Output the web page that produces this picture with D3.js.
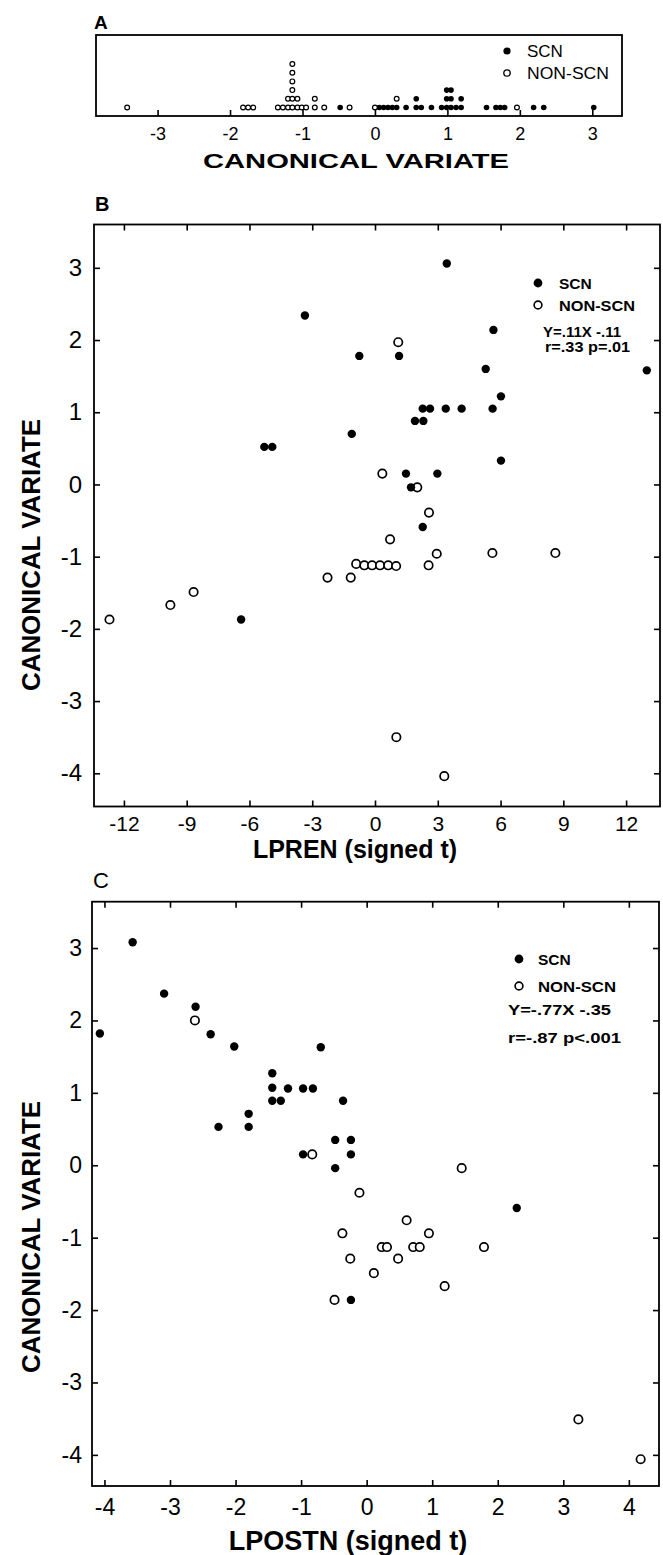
<!DOCTYPE html>
<html>
<head>
<meta charset="utf-8">
<script src="https://cdn.jsdelivr.net/npm/d3@7"></script>
<style>
  body { margin: 0; background: #fff; }
  svg text { font-family: "Liberation Sans", Arial, sans-serif; fill: #000; }
  .tick text { font-family: "Liberation Sans", Arial, sans-serif; }
</style>
</head>
<body>
<svg id="chart" width="663" height="1555"></svg>
<script>
// ---- panel A: canonical variate scores (equal values stack up) ----
var aScn = [-0.48, 0.06, 0.12, 0.18, 0.24, 0.30, 0.43, 0.57, 0.57, 0.64, 0.78,
            0.92, 0.99, 0.99, 0.99, 1.05, 1.05, 1.05, 1.12, 1.19, 1.19,
            1.54, 1.67, 1.73, 1.79, 2.19, 2.33, 3.02];
var aNon = [-3.42, -1.82, -1.75, -1.68, -1.34, -1.27, -1.20, -1.20,
            -1.14, -1.14, -1.14, -1.14, -1.14, -1.14, -1.07, -1.07, -1.01, -0.95,
            -0.83, -0.83, -0.70, -0.35, 0.00, 0.30, 1.96];
var aTicks = [-3, -2, -1, 0, 1, 2, 3];

// ---- panel B: LPREN (signed t) vs canonical variate ----
var bScnX = [-3.35, -0.75, -1.11, -5.29, -4.91, 3.43, 5.66, 1.15, 5.29, 12.99, 6.02,
             2.28, 2.63, 3.38, 4.14, 5.62, 1.91, 2.31, 6.02, 1.48, 2.98, 1.72, 2.28, -6.40];
var bScnY = [2.34, 1.78, 0.70, 0.52, 0.52, 3.06, 2.14, 1.78, 1.60, 1.58, 1.22,
             1.05, 1.05, 1.05, 1.05, 1.05, 0.88, 0.88, 0.33, 0.15, 0.15, -0.04, -0.59, -1.87];
var bNonX = [1.11, 0.35, 2.02, 2.58, 0.72, 2.95, 5.61, 8.62,
             -0.90, -0.51, -0.14, 0.24, 0.63, 1.01, 2.56, -2.27, -1.16,
             -8.67, -9.78, -12.69, 1.02, 3.31];
var bNonY = [1.97, 0.15, -0.04, -0.39, -0.76, -0.96, -0.95, -0.95,
             -1.10, -1.12, -1.12, -1.12, -1.12, -1.13, -1.12, -1.29, -1.29,
             -1.49, -1.67, -1.87, -3.50, -4.04];
var bXTicks = [-12, -9, -6, -3, 0, 3, 6, 9, 12];
var bYTicks = [3, 2, 1, 0, -1, -2, -3, -4];

// ---- panel C: LPOSTN (signed t) vs canonical variate ----
var cScnX = [-4.07, -3.57, -3.09, -2.61, -2.38, -2.02, -0.70, -1.44, -1.44, -1.20,
             -1.44, -1.31, -0.97, -0.82, -1.80, -2.26, -1.80, -0.36, -0.97,
             -0.48, -0.24, -0.24, -0.48, 2.29, -0.24];
var cScnY = [1.82, 3.08, 2.37, 2.19, 1.81, 1.64, 1.63, 1.27, 1.07, 1.06,
             0.89, 0.89, 1.06, 1.06, 0.71, 0.53, 0.53, 0.89, 0.15,
             0.35, 0.35, 0.15, -0.04, -0.59, -1.86];
var cNonX = [-2.62, -0.83, 1.45, -0.11, 0.61, -0.37, 0.95, 0.23, 0.31, 0.71, 0.81,
             1.79, -0.25, 0.48, 0.11, 1.19, -0.49, 3.23, 4.18];
var cNonY = [2.00, 0.15, -0.04, -0.38, -0.76, -0.94, -0.94, -1.13, -1.13, -1.13, -1.13,
             -1.13, -1.29, -1.29, -1.49, -1.67, -1.86, -3.51, -4.06];
var cXTicks = [-4, -3, -2, -1, 0, 1, 2, 3, 4];
var cYTicks = [3, 2, 1, 0, -1, -2, -3, -4];

var svg = d3.select('#chart');
svg.append('rect').attr('width', 663).attr('height', 1555).attr('fill', '#fff');

function pairs(xs, ys) {
    return xs.map(function (d, i) { return [d, ys[i]]; });
}

function frameRect(g, x0, y0, x1, y1) {
    g.append('rect')
        .attr('x', x0).attr('y', y0)
        .attr('width', x1 - x0).attr('height', y1 - y0)
        .attr('fill', 'none').attr('stroke', '#000').attr('stroke-width', 1.8);
}

function styleAxis(sel, size) {
    sel.select('.domain').remove();
    sel.selectAll('.tick line').attr('stroke', '#000').attr('stroke-width', 1.6);
    sel.selectAll('.tick text').attr('font-size', size).attr('fill', '#000');
}

function fmt(d) { return String(d); }

// ================= panel A =================
(function () {
    var x = d3.scaleLinear().domain([-3.85, 3.41]).range([96, 622]),
        top = 35, bottom = 116, step = 8.7, base = 107.5;
    var g = svg.append('g');
    frameRect(g, 96, top, 622, bottom);

    g.append('g').attr('transform', 'translate(0,' + bottom + ')')
        .call(d3.axisBottom(x).tickValues(aTicks).tickSizeInner(-6).tickSizeOuter(0)
            .tickPadding(11).tickFormat(fmt))
        .call(function (s) { styleAxis(s, 18); });

    var pts = aScn.map(function (v) { return { v: v, scn: true }; })
        .concat(aNon.map(function (v) { return { v: v, scn: false }; }));
    var level = {};
    pts.forEach(function (p) {
        var k = p.v.toFixed(2);
        p.lev = level[k] || 0;
        level[k] = p.lev + 1;
    });

    g.selectAll('circle.pt').data(pts).enter().append('circle')
        .attr('class', 'pt')
        .attr('cx', function (d) { return x(d.v); })
        .attr('cy', function (d) { return base - d.lev * step; })
        .attr('r', function (d) { return d.scn ? 2.8 : 2.4; })
        .attr('fill', function (d) { return d.scn ? '#000' : '#fff'; })
        .attr('stroke', '#000').attr('stroke-width', function (d) { return d.scn ? 0 : 1.2; });

    g.append('text').attr('x', 94).attr('y', 29).attr('font-size', 19).attr('font-weight', 'bold').text('A');

    // legend
    g.append('circle').attr('cx', 507).attr('cy', 51).attr('r', 3.6).attr('fill', '#000');
    g.append('circle').attr('cx', 507).attr('cy', 73).attr('r', 3.2).attr('fill', '#fff')
        .attr('stroke', '#000').attr('stroke-width', 1.3);
    g.append('text').attr('x', 527).attr('y', 57).attr('font-size', 17).text('SCN');
    g.append('text').attr('x', 527).attr('y', 79).attr('font-size', 17)
        .attr('textLength', 82).attr('lengthAdjust', 'spacingAndGlyphs').text('NON-SCN');

    g.append('text').attr('x', 356).attr('y', 168).attr('font-size', 20).attr('font-weight', 'bold')
        .attr('text-anchor', 'middle').attr('textLength', 306).attr('lengthAdjust', 'spacingAndGlyphs')
        .text('CANONICAL VARIATE');
})();

// ================= panels B and C =================
function scatterPanel(o) {
    var x = d3.scaleLinear().domain(o.xDom).range([o.left, o.right]),
        y = d3.scaleLinear().domain(o.yDom).range([o.bottom, o.top]);
    var g = svg.append('g');
    frameRect(g, o.left, o.top, o.right, o.bottom);

    g.append('g').attr('transform', 'translate(0,' + o.bottom + ')')
        .call(d3.axisBottom(x).tickValues(o.xTicks).tickSizeInner(-6).tickSizeOuter(0)
            .tickPadding(o.xPad).tickFormat(fmt))
        .call(function (s) { styleAxis(s, o.xFont); });
    g.append('g').attr('transform', 'translate(0,' + o.top + ')')
        .call(d3.axisTop(x).tickValues(o.xTicks).tickSizeInner(-6).tickSizeOuter(0).tickFormat(''))
        .call(function (s) { styleAxis(s, 0); });
    g.append('g').attr('transform', 'translate(' + o.left + ',0)')
        .call(d3.axisLeft(y).tickValues(o.yTicks).tickSizeInner(-6).tickSizeOuter(0)
            .tickPadding(o.yPad).tickFormat(fmt))
        .call(function (s) { styleAxis(s, o.yFont); });
    g.append('g').attr('transform', 'translate(' + o.right + ',0)')
        .call(d3.axisRight(y).tickValues(o.yTicks).tickSizeInner(-6).tickSizeOuter(0).tickFormat(''))
        .call(function (s) { styleAxis(s, 0); });

    g.selectAll('circle.non').data(o.non).enter().append('circle')
        .attr('class', 'non')
        .attr('cx', function (d) { return x(d[0]); })
        .attr('cy', function (d) { return y(d[1]); })
        .attr('r', 4.2).attr('fill', '#fff').attr('stroke', '#000').attr('stroke-width', 1.7);
    g.selectAll('circle.scn').data(o.scn).enter().append('circle')
        .attr('class', 'scn')
        .attr('cx', function (d) { return x(d[0]); })
        .attr('cy', function (d) { return y(d[1]); })
        .attr('r', 4.2).attr('fill', '#000');

    g.append('text').attr('x', o.left + 1).attr('y', o.top - 14)
        .attr('font-size', o.letterSize).attr('font-weight', o.letterWeight).text(o.letter);

    // y title
    g.append('text')
        .attr('transform', 'translate(31,' + o.yTitleY + ') rotate(-90)')
        .attr('text-anchor', 'middle').attr('dy', '0.35em')
        .attr('font-size', 26).attr('font-weight', 'bold')
        .attr('textLength', 272).attr('lengthAdjust', 'spacingAndGlyphs')
        .text('CANONICAL VARIATE');
    // x title
    g.append('text').attr('x', o.xTitleX).attr('y', o.xTitleY)
        .attr('text-anchor', 'middle').attr('font-size', o.xTitleSize).attr('font-weight', 'bold')
        .text(o.xTitle);

    // legend
    var L = o.legend;
    g.append('circle').attr('cx', L.x).attr('cy', L.y).attr('r', 4.4).attr('fill', '#000');
    g.append('circle').attr('cx', L.x).attr('cy', L.y + L.dy).attr('r', 3.9).attr('fill', '#fff')
        .attr('stroke', '#000').attr('stroke-width', 1.6);
    g.append('text').attr('x', L.tx).attr('y', L.y + 5.5).attr('font-size', 15.5).attr('font-weight', 'bold').text('SCN');
    g.append('text').attr('x', L.tx).attr('y', L.y + L.dy + 5.5).attr('font-size', 15.5).attr('font-weight', 'bold')
        .attr('textLength', L.nonW).attr('lengthAdjust', 'spacingAndGlyphs').text('NON-SCN');
    L.lines.forEach(function (ln) {
        g.append('text').attr('x', ln.x).attr('y', ln.y).attr('font-size', 14.5).attr('font-weight', 'bold')
            .attr('textLength', ln.w).attr('lengthAdjust', 'spacingAndGlyphs').text(ln.t);
    });
}

scatterPanel({
    xDom: [-13.43, 13.62], yDom: [-4.46, 3.6],
    left: 94, right: 660, top: 224.5, bottom: 806.5,
    xTicks: bXTicks, yTicks: bYTicks,
    xPad: 10, yPad: 12, xFont: 21, yFont: 24,
    scn: pairs(bScnX, bScnY), non: pairs(bNonX, bNonY),
    letter: 'B', letterSize: 20, letterWeight: 'bold',
    yTitleY: 555, xTitle: 'LPREN (signed t)', xTitleX: 355, xTitleY: 858, xTitleSize: 25,
    legend: { x: 538, y: 283, dy: 22, tx: 559, nonW: 76,
        lines: [{ x: 543, y: 337, w: 78, t: 'Y=.11X -.11' }, { x: 545, y: 352, w: 85, t: 'r=.33  p=.01' }] }
});

scatterPanel({
    xDom: [-4.19, 4.46], yDom: [-4.43, 3.64],
    left: 92, right: 659, top: 901.7, bottom: 1486,
    xTicks: cXTicks, yTicks: cYTicks,
    xPad: 13, yPad: 10, xFont: 23, yFont: 23,
    scn: pairs(cScnX, cScnY), non: pairs(cNonX, cNonY),
    letter: 'C', letterSize: 22, letterWeight: 'normal',
    yTitleY: 1237, xTitle: 'LPOSTN (signed t)', xTitleX: 348, xTitleY: 1550, xTitleSize: 27,
    legend: { x: 519, y: 959, dy: 27, tx: 538, nonW: 78,
        lines: [{ x: 508, y: 1015, w: 103, t: 'Y=-.77X -.35' }, { x: 508, y: 1043, w: 113, t: 'r=-.87  p<.001' }] }
});
</script>
</body>
</html>
